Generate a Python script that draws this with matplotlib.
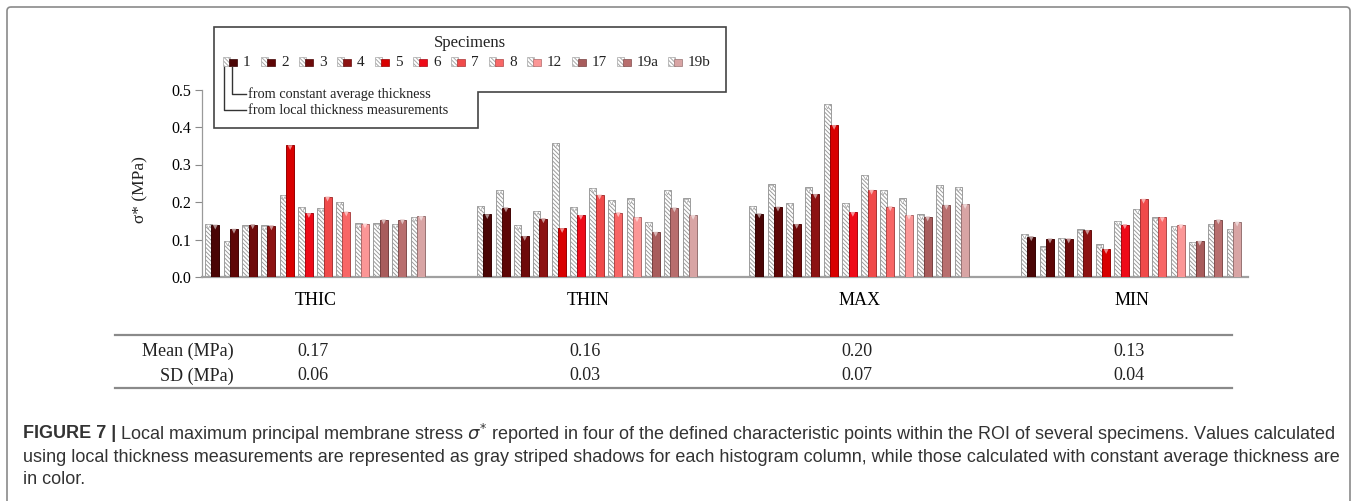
import matplotlib
matplotlib.use("Agg")
import matplotlib.pyplot as plt
from matplotlib.patches import Rectangle, Polygon, FancyBboxPatch
from matplotlib.colors import to_rgb
import numpy as np

plt.rcParams['hatch.linewidth'] = 0.7
plt.rcParams['mathtext.fontset'] = 'dejavusans'

# ---------------- data ----------------
groups = ['THIC', 'THIN', 'MAX', 'MIN']
specimens = ['1', '2', '3', '4', '5', '6', '7', '8', '12', '17', '19a', '19b']

local_thic = [0.141, 0.096, 0.138, 0.138, 0.220, 0.187, 0.185, 0.201, 0.143, 0.143, 0.142, 0.160]
const_thic = [0.139, 0.128, 0.140, 0.137, 0.351, 0.170, 0.214, 0.174, 0.142, 0.153, 0.153, 0.162]
local_thin = [0.189, 0.232, 0.139, 0.177, 0.357, 0.187, 0.237, 0.205, 0.210, 0.147, 0.232, 0.210]
const_thin = [0.167, 0.185, 0.109, 0.156, 0.130, 0.165, 0.219, 0.172, 0.159, 0.120, 0.185, 0.165]
local_max = [0.190, 0.247, 0.197, 0.239, 0.461, 0.197, 0.272, 0.232, 0.210, 0.167, 0.245, 0.240]
const_max = [0.169, 0.187, 0.141, 0.221, 0.405, 0.173, 0.232, 0.188, 0.165, 0.161, 0.192, 0.194]
local_min = [0.116, 0.082, 0.105, 0.127, 0.087, 0.149, 0.181, 0.159, 0.136, 0.093, 0.141, 0.128]
const_min = [0.108, 0.102, 0.102, 0.125, 0.074, 0.140, 0.208, 0.159, 0.140, 0.096, 0.153, 0.147]

mean_vals = ['0.17', '0.16', '0.20', '0.13']
sd_vals = ['0.06', '0.03', '0.07', '0.04']

yticks = [0.0, 0.1, 0.2, 0.3, 0.4, 0.5]

local_all = [local_thic, local_thin, local_max, local_min]
const_all = [const_thic, const_thin, const_max, const_min]

colors = ['#4a0505', '#5e0606', '#6e0a0a', '#8c1212', '#d80000', '#ee0a18',
          '#f04a4a', '#f86666', '#fb9696', '#a85c5c', '#b86e6e', '#d8a4a4']

# ---------------- layout ----------------
W, H = 1357, 501
fig = plt.figure(figsize=(W / 100, H / 100), dpi=100)
fig.patch.set_facecolor('white')

ax_l, ax_r, ax_b, ax_t = 202, 1248, 277, 89.5
ax = fig.add_axes([ax_l / W, 1 - ax_b / H, (ax_r - ax_l) / W, (ax_b - ax_t) / H])

serif = 'Liberation Serif'
sans = 'Liberation Sans'


def darker(c, f=0.7):
    r, g, b = to_rgb(c)
    return (r * f, g * f, b * f)


def lighter(c, f=0.55):
    r, g, b = to_rgb(c)
    return (r + (1 - r) * f, g + (1 - g) * f, b + (1 - b) * f)


HATCH = '\\\\\\\\\\\\\\\\'
p = 0.0688     # pitch per specimen
gw = 0.026     # gray bar width
cw = 0.029     # colored bar width
for g in range(len(groups)):
    for i in range(len(specimens)):
        x0 = g - 6 * p + i * p + 0.004
        lv = local_all[g][i]
        cv = const_all[g][i]
        ax.bar(x0, lv, width=gw, align='edge', facecolor='white',
               edgecolor='#9c9c9c', hatch=HATCH, linewidth=0.7, zorder=2)
        ax.bar(x0 + gw - 0.002, cv, width=cw, align='edge', facecolor=colors[i],
               edgecolor=darker(colors[i]), linewidth=0.7, zorder=3)
        ax.scatter([x0 + gw / 2], [lv - 0.006], marker='v', s=10,
                   facecolor='white', edgecolor='#999999', linewidth=0.4, zorder=4)
        ax.scatter([x0 + gw - 0.002 + cw / 2], [cv - 0.006], marker='v', s=12,
                   facecolor=lighter(colors[i]), edgecolor='none', zorder=4)

ax.set_xlim(-(316 - ax_l) / 272, (ax_r - 316) / 272)
ax.set_ylim(0, 0.5)
ax.set_yticks(yticks)
ax.set_yticklabels(['%.1f' % v for v in yticks], fontfamily=serif, fontsize=11.5)
ax.tick_params(axis='y', direction='out', length=5, color='#8a8a8a', pad=3)
ax.set_xticks(range(len(groups)))
ax.set_xticklabels(groups, fontfamily=serif, fontsize=13)
ax.tick_params(axis='x', length=0, pad=11)
for s in ['top', 'right']:
    ax.spines[s].set_visible(False)
ax.spines['left'].set_color('#9a9a9a')
ax.spines['left'].set_linewidth(0.9)
ax.spines['bottom'].set_color('#a0a0a0')
ax.spines['bottom'].set_linewidth(1.6)
ax.patch.set_alpha(0)

# ---------------- overlay in pixel coordinates ----------------
ov = fig.add_axes([0, 0, 1, 1])
ov.set_xlim(0, W)
ov.set_ylim(H, 0)
ov.axis('off')

# outer frame
ov.add_patch(FancyBboxPatch((7, 7), W - 14, H + 10, boxstyle='round,pad=0,rounding_size=4',
                            facecolor='none', edgecolor='#8a8a8a', linewidth=1.2, zorder=1))

# y label
ov.text(140, 190, 'σ* (MPa)', rotation=90, ha='center', va='center',
        fontfamily=serif, fontsize=12.5, color='#222222')

# legend box
ov.add_patch(Polygon([(214, 27), (726, 27), (726, 92), (478, 92), (478, 128), (214, 128)],
                     closed=True, facecolor='white', edgecolor='#444444', linewidth=1.2, zorder=5))
ov.text(470, 43, 'Specimens', ha='center', va='center', fontfamily=serif,
        fontsize=12, color='#222222', zorder=6)
label_x = [243, 281, 319, 357, 395, 433, 471, 509, 547, 592, 637, 688]
ly = 62
for i, (lab, lx) in enumerate(zip(specimens, label_x)):
    ov.add_patch(Rectangle((lx - 20, ly - 5), 7, 9, facecolor='white', edgecolor='#a8a8a8',
                           hatch=HATCH, linewidth=0.5, zorder=6))
    ov.add_patch(Rectangle((lx - 14, ly - 3), 8, 7, facecolor=colors[i],
                           edgecolor=darker(colors[i]), linewidth=0.5, zorder=7))
    ov.text(lx, ly, lab, ha='left', va='center', fontfamily=serif, fontsize=11,
            color='#222222', zorder=7)
ov.plot([232, 232, 246], [67, 94, 94], color='#333333', linewidth=1, zorder=7)
ov.plot([224, 224, 246], [67, 110, 110], color='#333333', linewidth=1, zorder=7)
ov.text(248, 94, 'from constant average thickness', ha='left', va='center',
        fontfamily=serif, fontsize=10.3, color='#222222', zorder=7)
ov.text(248, 110, 'from local thickness measurements', ha='left', va='center',
        fontfamily=serif, fontsize=10.3, color='#222222', zorder=7)

# table
ov.plot([115, 1232], [335, 335], color='#8a8a8a', linewidth=1.6)
ov.plot([115, 1232], [388, 388], color='#8a8a8a', linewidth=1.6)
ov.text(234, 351, 'Mean (MPa)', ha='right', va='center', fontfamily=serif, fontsize=13, color='#222222')
ov.text(234, 376, 'SD (MPa)', ha='right', va='center', fontfamily=serif, fontsize=13, color='#222222')
for g in range(len(groups)):
    xp = ax.transData.transform((g, 0))[0]
    ov.text(xp - 3, 351, mean_vals[g], ha='center', va='center', fontfamily=serif, fontsize=13, color='#222222')
    ov.text(xp - 3, 376, sd_vals[g], ha='center', va='center', fontfamily=serif, fontsize=13, color='#222222')

# caption
cap_col = '#333333'
line1 = 'Local maximum principal membrane stress $\\sigma^{*}$ reported in four of the defined characteristic points within the ROI of several specimens. Values calculated'
line2 = 'using local thickness measurements are represented as gray striped shadows for each histogram column, while those calculated with constant average thickness are'
line3 = 'in color.'
renderer = fig.canvas.get_renderer()
fs = 11.5
t2 = ov.text(23, 457, line2, ha='left', va='center', fontfamily=sans, fontsize=fs, color=cap_col)
w2 = t2.get_window_extent(renderer).width
fs = fs * 1318 / w2
t2.set_fontsize(fs)
tb = ov.text(23, 434, 'FIGURE 7 |', ha='left', va='center', fontfamily=sans, fontsize=fs,
             fontweight='bold', color=cap_col)
wb = tb.get_window_extent(renderer).width
ov.text(23 + wb + fs * 0.3, 434, line1, ha='left', va='center', fontfamily=sans, fontsize=fs, color=cap_col)
ov.text(23, 480, line3, ha='left', va='center', fontfamily=sans, fontsize=fs, color=cap_col)

fig.savefig('out.png', dpi=100)
